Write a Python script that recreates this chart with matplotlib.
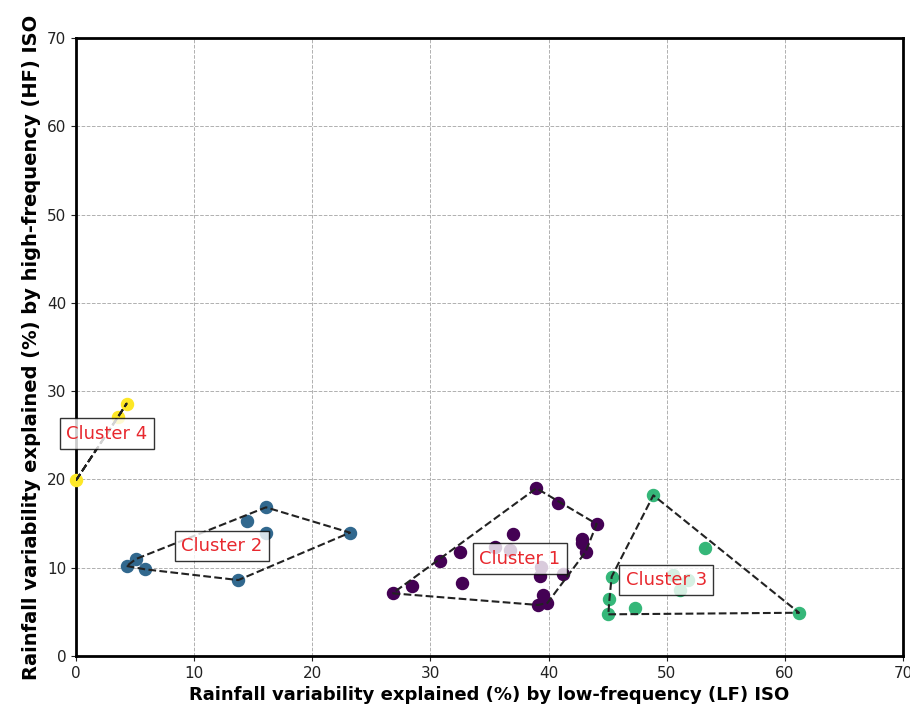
import numpy as np
import matplotlib
matplotlib.use("Agg")
import matplotlib.pyplot as plt

# cluster members: (LF %, HF %)
cluster1_lf = [38.97, 40.8, 44.07, 42.8, 42.8, 43.14, 36.96, 32.5, 30.8, 28.4,
               26.8, 32.7, 35.5, 36.7, 39.4, 39.3, 41.2, 39.55, 39.9, 39.1]
cluster1_hf = [19.0, 17.3, 14.95, 13.3, 12.75, 11.8, 13.8, 11.8, 10.8, 7.9,
               7.1, 8.3, 12.4, 12.0, 10.1, 9.06, 9.3, 6.9, 6.0, 5.78]

cluster2_lf = [16.08, 14.45, 16.08, 23.19, 5.08, 4.29, 5.84, 13.74]
cluster2_hf = [16.84, 15.3, 13.97, 13.97, 10.99, 10.19, 9.82, 8.6]

cluster3_lf = [48.87, 53.24, 45.34, 45.15, 45.06, 47.3, 61.2, 50.56, 51.8, 51.1]
cluster3_hf = [18.2, 12.2, 8.98, 6.4, 4.72, 5.47, 4.9, 9.17, 8.6, 7.5]

cluster4_lf = [4.29, 3.58, 0.0]
cluster4_hf = [28.6, 27.1, 19.9]

cluster_names = ["Cluster 1", "Cluster 2", "Cluster 3", "Cluster 4"]
cluster_colors = ["#440154", "#31688e", "#35b779", "#fde725"]


def convex_hull(pts):
    pts = sorted(set(pts))
    if len(pts) < 3:
        return pts

    def cross(o, a, b):
        return (a[0] - o[0]) * (b[1] - o[1]) - (a[1] - o[1]) * (b[0] - o[0])

    lower = []
    for p in pts:
        while len(lower) >= 2 and cross(lower[-2], lower[-1], p) <= 0:
            lower.pop()
        lower.append(p)
    upper = []
    for p in reversed(pts):
        while len(upper) >= 2 and cross(upper[-2], upper[-1], p) <= 0:
            upper.pop()
        upper.append(p)
    return lower[:-1] + upper[:-1]


fig = plt.figure(figsize=(9.1, 7.11), dpi=100)
ax = fig.add_axes([76 / 910, 55 / 711, 827 / 910, 618 / 711])

clusters = [(cluster1_lf, cluster1_hf), (cluster2_lf, cluster2_hf),
            (cluster3_lf, cluster3_hf), (cluster4_lf, cluster4_hf)]

for (lf, hf), name, col in zip(clusters, cluster_names, cluster_colors):
    ax.scatter(lf, hf, s=75, color=col, zorder=3, clip_on=False)
    hull = convex_hull(list(zip(lf, hf)))
    hull.append(hull[0])
    hx, hy = zip(*hull)
    ax.plot(hx, hy, '--', color='#222222', lw=1.5, zorder=4)
    ax.text(np.mean(lf), np.mean(hf), name, color='#e8282e', fontsize=13,
            ha='center', va='center', zorder=5,
            bbox=dict(facecolor='white', edgecolor='black', alpha=0.8, pad=4.5))

ax.set_xlim(0, 70)
ax.set_ylim(0, 70)
ax.set_xticks(range(0, 71, 10))
ax.set_yticks(range(0, 71, 10))
ax.grid(True, color='#b0b0b0', linestyle='--', linewidth=0.7)
ax.set_axisbelow(True)
for sp in ax.spines.values():
    sp.set_linewidth(2)
ax.tick_params(labelsize=11, colors='#222222')
ax.set_xlabel('Rainfall variability explained (%) by low-frequency (LF) ISO',
              fontsize=13, fontweight='bold')
ax.set_ylabel('Rainfall variability explained (%) by high-frequency (HF) ISO',
              fontsize=14, fontweight='bold')

fig.savefig('out.png', dpi=100)
